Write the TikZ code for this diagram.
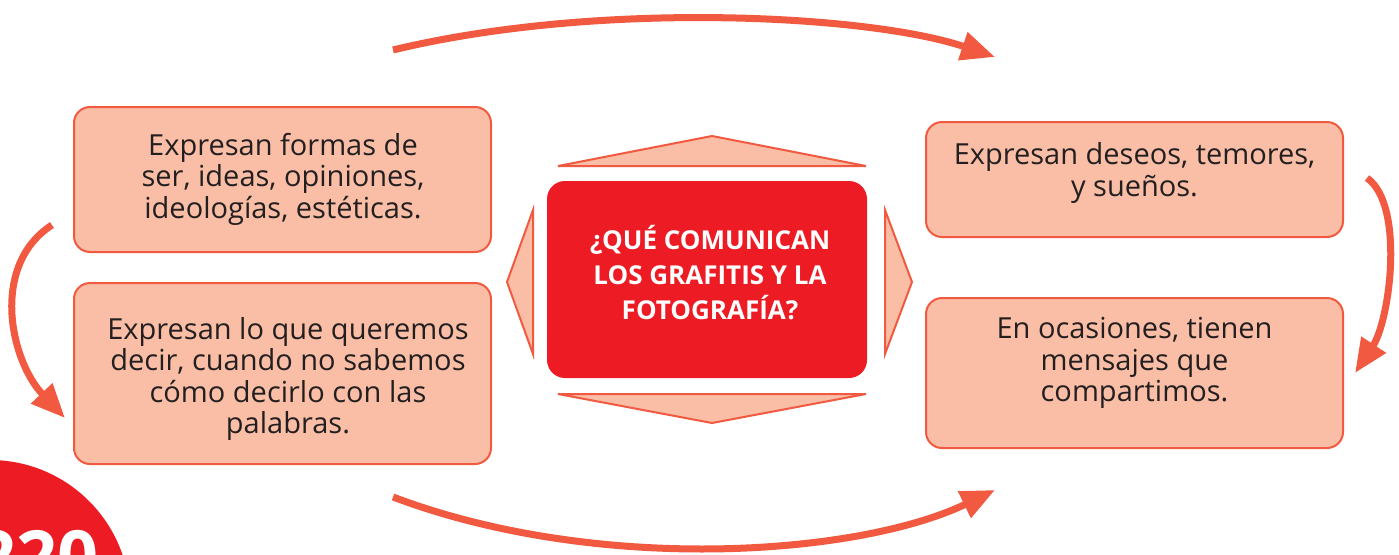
\documentclass[tikz,border=0pt]{standalone}
\usepackage{fontspec}
\setmainfont{Open Sans}
\usetikzlibrary{arrows.meta}
\definecolor{salmon}{HTML}{F9BEA5}
\definecolor{edge}{HTML}{F15A40}
\definecolor{redbox}{HTML}{ED1C24}
\definecolor{ink}{HTML}{231F20}
\begin{document}
\begin{tikzpicture}[x=1pt,y=-1pt,
  box/.style={draw=edge, line width=2pt, fill=salmon, rounded corners=16pt, minimum width=417pt, inner sep=0pt},
  txt/.style={font=\fontsize{29}{31.5}\selectfont, text=ink, align=center, inner sep=0pt},
  tri/.style={draw=edge, line width=2pt, fill=salmon, line join=miter},
  arr/.style={draw=edge, line width=7pt, -{Triangle[length=34pt,width=28pt]}}]
\useasboundingbox (0,0) rectangle (1399,554);
% page badge
\fill[redbox] (-10,600) circle[radius=140pt];
\node[anchor=base east, font=\fontsize{72}{72}\selectfont\bfseries, text=white, inner sep=0pt] (pg) at (99,582) {220};
% boxes
\node[box, minimum height=145pt] (tl) at (282.5,179.5) {};
\node[box, minimum height=181pt] (bl) at (282.5,373.5) {};
\node[box, minimum height=115pt] (tr) at (1134.5,179.5) {};
\node[box, minimum height=150pt] (br) at (1134.5,373) {};
\node[txt] (tlt) at (283,179) {Expresan formas de\\ser, ideas, opiniones,\\ideologías, estéticas.};
\node[txt] (blt) at (288,379) {Expresan lo que queremos\\decir, cuando no sabemos\\cómo decirlo con las\\palabras.};
\node[txt] (trt) at (1134.5,173) {Expresan deseos, temores,\\y sueños.};
\node[txt] (brt) at (1134.5,363) {En ocasiones, tienen\\mensajes que\\compartimos.};
% centre
\node[fill=redbox, rounded corners=18pt, minimum width=320pt, minimum height=197pt, inner sep=0pt] (c) at (707,279.5) {};
\node[font=\fontsize{26}{35}\selectfont\bfseries, text=white, align=center, inner sep=0pt] (ct) at (710,273) {¿QUÉ COMUNICAN\\LOS GRAFITIS Y LA\\FOTOGRAFÍA?};
% triangles
\draw[tri] (558,166) -- (712,136) -- (866,166) -- cycle;
\draw[tri] (558,394) -- (712,423) -- (866,394) -- cycle;
\draw[tri] (533,210) -- (507,282) -- (533,354) -- cycle;
\draw[tri] (885,210) -- (912,282) -- (885,354) -- cycle;
% arrows
\coordinate (a1) at (393,50);
\coordinate (a2) at (995,57);
\coordinate (b1) at (393,497);
\coordinate (b2) at (995,490);
\coordinate (l1) at (52,225);
\coordinate (l2) at (65,418);
\coordinate (r1) at (1367,178);
\coordinate (r2) at (1355,373);
\draw[arr] (a1) .. controls (600,0) and (870,15) .. (a2);
\draw[arr] (b1) .. controls (600,575) and (860,555) .. (b2);
\draw[arr] (l1) .. controls (-10,265) and (10,360) .. (l2);
\draw[arr] (r1) .. controls (1405,205) and (1390,320) .. (r2);
\end{tikzpicture}
\end{document}
